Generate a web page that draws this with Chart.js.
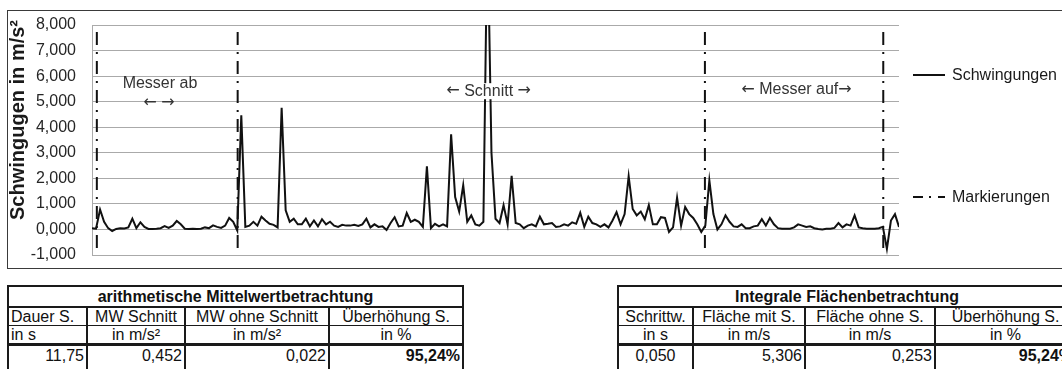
<!DOCTYPE html>
<html><head><meta charset="utf-8">
<script src="https://cdn.jsdelivr.net/npm/chart.js@4"></script>
<style>
html,body{margin:0;padding:0;background:#fff;overflow:hidden;width:1062px;height:369px;}
body{position:relative;font-family:"Liberation Sans",Arial,sans-serif;}
#box{position:absolute;left:7px;top:10px;width:1100px;height:259px;border:1px solid #3a3a3a;box-sizing:border-box;}
#c{position:absolute;left:0;top:0;}
.leg{position:absolute;font-size:16px;color:#1a1a1a;line-height:18px;white-space:nowrap;}
table{position:absolute;border-collapse:collapse;font-size:16px;color:#111;table-layout:fixed;}
td{border:2px solid #1a1a1a;padding:0 2px;white-space:nowrap;overflow:hidden;line-height:17px;}
td.l{text-align:left;} td.c{text-align:center;} td.r{text-align:right;} td.b{font-weight:bold;}
tr.t td{height:19px;} tr.h td{height:17px;} tr.u td{height:17px;} tr.v td{height:26px;vertical-align:top;padding-top:1px;}
tr.h td{border-bottom-width:1px;}
tr.u td{border-top-width:1px;border-bottom-width:3px;}
</style>
</head><body>
<div id="box"><canvas id="c" width="1054" height="257"></canvas></div>
<svg style="position:absolute;left:913px;top:60px" width="34" height="150">
 <line x1="0" y1="15" x2="32" y2="15" stroke="#111" stroke-width="2"/>
 <line x1="0" y1="137" x2="32" y2="137" stroke="#111" stroke-width="2" stroke-dasharray="10,6,2,7"/>
</svg>
<div class="leg" style="left:952px;top:66px">Schwingungen</div>
<div class="leg" style="left:952px;top:188px">Markierungen</div>

<table style="left:7px;top:285px;width:455px">
<colgroup><col style="width:79px"><col style="width:98px"><col style="width:144px"><col style="width:134px"></colgroup>
<tr class="t"><td class="c b" colspan="4">arithmetische Mittelwertbetrachtung</td></tr>
<tr class="h"><td class="l">Dauer S.</td><td class="c">MW Schnitt</td><td class="c">MW ohne Schnitt</td><td class="c">Überhöhung S.</td></tr>
<tr class="u"><td class="l">in s</td><td class="c">in m/s²</td><td class="c">in m/s²</td><td class="c">in %</td></tr>
<tr class="v"><td class="r">11,75</td><td class="r">0,452</td><td class="r">0,022</td><td class="r b">95,24%</td></tr>
</table>

<table style="left:617px;top:285px;width:458px">
<colgroup><col style="width:75px"><col style="width:112px"><col style="width:130px"><col style="width:141px"></colgroup>
<tr class="t"><td class="c b" colspan="4">Integrale Flächenbetrachtung</td></tr>
<tr class="h"><td class="c">Schrittw.</td><td class="c">Fläche mit S.</td><td class="c">Fläche ohne S.</td><td class="c">Überhöhung S.</td></tr>
<tr class="u"><td class="c">in s</td><td class="c">in m/s</td><td class="c">in m/s</td><td class="c">in %</td></tr>
<tr class="v"><td class="c">0,050</td><td class="r">5,306</td><td class="r">0,253</td><td class="r b">95,24%</td></tr>
</table>

<script>
// ---- data ----
const timeStep = 0.1; // s
const schwingungen = [
 0.05,0.03,0.78,0.3,0.05,-0.06,0.02,0.05,0.04,0.08,
 0.42,0.05,0.28,0.1,0.02,0.02,0.03,0.05,0.13,0.06,
 0.15,0.33,0.2,0.03,0.02,0.03,0.02,0.03,0.08,0.05,
 0.16,0.1,0.06,0.15,0.45,0.3,-0.04,4.47,0.1,0.15,
 0.3,0.15,0.5,0.35,0.22,0.18,0.08,4.76,0.75,0.3,
 0.42,0.2,0.2,0.42,0.12,0.35,0.12,0.4,0.2,0.3,
 0.15,0.1,0.18,0.15,0.15,0.18,0.14,0.2,0.42,0.08,
 0.2,0.1,0.12,-0.02,0.25,0.48,0.12,0.15,0.64,0.3,
 0.38,0.3,0.1,2.47,0.05,0.22,0.12,0.2,0.12,3.72,
 1.27,0.7,1.73,0.3,0.55,0.2,0.15,0.3,12,3.0,
 0.42,0.25,0.95,0.2,2.1,0.25,0.2,0.05,0.15,0.2,
 0.12,0.5,0.2,0.22,0.25,0.1,0.12,0.2,0.15,0.28,
 0.22,0.65,0.1,0.5,0.25,0.2,0.1,0.2,0.08,0.35,
 0.68,0.2,0.6,2.08,0.8,0.55,0.7,0.4,0.95,0.2,
 0.2,0.48,0.45,-0.1,0.08,1.24,0.15,0.88,0.6,0.45,
 0.2,-0.1,0.15,1.92,0.6,0.0,0.2,0.55,0.3,0.12,
 0.1,0.2,0.05,0.05,0.12,0.15,0.4,0.15,0.45,0.2,
 0.05,0.03,0.03,0.03,0.08,0.2,0.15,0.1,0.12,0.05,
 0.02,0.0,0.03,0.03,0.06,0.25,0.08,0.2,0.15,0.55,
 0.08,0.05,0.03,0.03,0.03,0.05,0.1,-0.76,0.35,0.6,
 0.1
];
const markerTimes = [0.12, 3.61, 15.19, 19.61];
const markerRange = [7.8, -0.85];
const yMin = -1, yMax = 8, yStep = 1;
const xMin = 0, xMax = 20;
const yTitle = 'Schwingugen in m/s²';
const annotationTexts = ['Messer ab', '\u2190 \u2192', '\u2190 Schnitt \u2192', '\u2190 Messer auf\u2192'];
const annotationTimes = [1.685, 1.66, 9.83, 17.46];
const annotationValues = [5.69, 4.94, 5.41, 5.48];
const annotationBackground = [false, false, true, false];

// ---- build ----
const seriesData = schwingungen.map((v, i) => ({x: +(i * timeStep).toFixed(2), y: v}));
const markerData = [];
markerTimes.forEach(t => {
  markerData.push({x: t, y: markerRange[0]});
  markerData.push({x: t, y: markerRange[1]});
  markerData.push({x: t, y: null});
});

const FONT = '"Liberation Sans", Arial, sans-serif';
const ARROW_FONT = '"DejaVu Sans", sans-serif';
Chart.defaults.font.family = FONT;

function runs(text) {
  const out = [];
  for (const ch of text) {
    const isArrow = ch === '\u2190' || ch === '\u2192';
    const last = out[out.length - 1];
    if (last && last.arrow === isArrow) last.s += ch; else out.push({s: ch, arrow: isArrow});
  }
  return out;
}

const annotationPlugin = {
  id: 'annot',
  afterDatasetsDraw(chart) {
    const {ctx} = chart; const x = chart.scales.x, y = chart.scales.y;
    ctx.save();
    ctx.textAlign = 'left'; ctx.textBaseline = 'middle';
    annotationTexts.forEach((t, i) => {
      const px = x.getPixelForValue(annotationTimes[i]);
      const py = y.getPixelForValue(annotationValues[i]);
      const parts = runs(t);
      let w = 0;
      parts.forEach(p => { ctx.font = '16px ' + (p.arrow ? ARROW_FONT : FONT); p.w = ctx.measureText(p.s).width; w += p.w; });
      let cx = px - w / 2;
      if (annotationBackground[i]) {
        ctx.fillStyle = '#fff';
        ctx.fillRect(cx - 2, py - 8, w + 4, 16);
      }
      ctx.fillStyle = '#333';
      parts.forEach(p => { ctx.font = '16px ' + (p.arrow ? ARROW_FONT : FONT); ctx.fillText(p.s, cx, py); cx += p.w; });
    });
    ctx.restore();
  }
};

// y-axis title, centred on the upper part like the original (Excel) layout
const yTitlePlugin = {
  id: 'ytitle',
  afterDraw(chart) {
    const {ctx} = chart; const y = chart.scales.y;
    const cy = (y.getPixelForValue(yMax) + y.getPixelForValue(yMin)) / 2 - 20;
    ctx.save();
    ctx.translate(10, cy);
    ctx.rotate(-Math.PI / 2);
    ctx.font = 'bold 20px ' + FONT;
    ctx.fillStyle = '#1a1a1a';
    ctx.textAlign = 'center'; ctx.textBaseline = 'middle';
    ctx.fillText(yTitle, 0, 0);
    ctx.restore();
  }
};

new Chart(document.getElementById('c'), {
  type: 'line',
  data: {
    datasets: [
      {label: 'Schwingungen', data: seriesData, borderColor: '#111', borderWidth: 2,
       pointRadius: 0, tension: 0, fill: false},
      {label: 'Markierungen', data: markerData, borderColor: '#111', borderWidth: 2,
       borderDash: [13, 7, 2, 7], borderDashOffset: -2, pointRadius: 0, spanGaps: false, fill: false}
    ]
  },
  options: {
    responsive: false, animation: false, devicePixelRatio: 1,
    layout: {padding: {left: 0, right: 163, top: 14, bottom: 13}},
    plugins: {legend: {display: false}, tooltip: {enabled: false}},
    scales: {
      x: {type: 'linear', min: xMin, max: xMax, display: false},
      y: {
        min: yMin, max: yMax,
        ticks: {stepSize: yStep, padding: 16, color: '#262626', font: {size: 16},
                callback: v => v.toFixed(3).replace('.', ',')},
        grid: {color: '#aaaaaa', drawTicks: false, lineWidth: 1},
        border: {display: true, color: '#aaaaaa'},
        title: {display: false},
        afterFit(s) { s.width = 84; s.paddingTop = 0; s.paddingBottom = 0; }
      }
    }
  },
  plugins: [annotationPlugin, yTitlePlugin]
});
</script>
</body></html>
